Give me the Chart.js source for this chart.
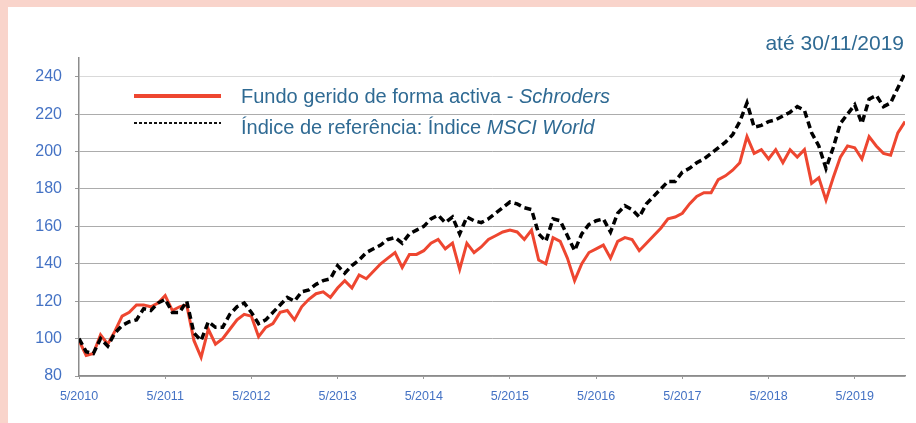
<!DOCTYPE html>
<html lang="pt">
<head>
<meta charset="utf-8">
<script src="https://cdn.jsdelivr.net/npm/chart.js@4.4.1/dist/chart.umd.min.js"></script>
<style>
  html, body { margin: 0; padding: 0; }
  body {
    width: 916px; height: 423px; overflow: hidden; position: relative;
    background: #f9d4cb; font-family: "Liberation Sans", Arial, sans-serif;
  }
  #painel { position: absolute; left: 8px; top: 7px; right: 0; bottom: 0; background: #fff; }
  #grafico { position: absolute; left: 8px; top: 7px; }
  .legenda { position: absolute; left: 241px; font-size: 20px; line-height: 24px; color: #2f6a93; white-space: nowrap; }
  .amostra { position: absolute; left: 134px; width: 87px; }
  #amostraFundo { top: 94px; height: 4px; background: #ee4630; }
  #amostraIndice { top: 122px; height: 2px; background: repeating-linear-gradient(90deg, #111 0 3px, transparent 3px 5px); }
  #data { position: absolute; right: 12px; top: 31px; font-size: 21px; line-height: 24px; color: #2f6a93; white-space: nowrap; }
</style>
</head>
<body>
<div id="painel"></div>
<canvas id="grafico" width="908" height="416"></canvas>
<div id="data">até 30/11/2019</div>
<div class="amostra" id="amostraFundo"></div>
<div class="legenda" style="top:84px">Fundo gerido de forma activa - <i>Schroders</i></div>
<div class="amostra" id="amostraIndice"></div>
<div class="legenda" style="top:115px">Índice de referência: Índice <i>MSCI World</i></div>
<script>
// valores mensais, de 5/2010 até ao fim de 11/2019
const anosEixo = ["5/2010", "5/2011", "5/2012", "5/2013", "5/2014", "5/2015", "5/2016", "5/2017", "5/2018", "5/2019"];

const fundo = [
  99, 91, 92, 102, 97, 104, 112, 114, 118, 118,
  117, 119, 123, 115, 117, 118, 99, 90, 105, 97,
  100, 105, 110, 113, 112, 101, 106, 108, 114, 115,
  110, 117, 121, 124, 125, 122, 127, 131, 127, 134,
  132, 136, 140, 143, 146, 138, 145, 145, 147, 151,
  153, 148, 151, 137, 151, 146, 149, 153, 155, 157,
  158, 157, 153, 158, 142, 140, 154, 152, 143, 131,
  140, 146, 148, 150, 143, 152, 154, 153, 147, 151,
  155, 159, 164, 165, 167, 172, 176, 178, 178, 185,
  187, 190, 194, 208, 199, 201, 196, 201, 194, 201,
  197, 201, 183, 186, 174, 186, 197, 203, 202, 196,
  208, 203, 199, 198, 210, 216
];

const indice = [
  100, 93, 92, 100, 96, 103, 107, 109, 110, 116,
  115, 119, 121, 114, 114, 120, 103, 99, 109, 106,
  106, 113, 117, 119, 114, 108, 110, 114, 118, 122,
  120, 125, 126, 129, 131, 132, 139, 135, 139, 142,
  146, 148, 150, 153, 154, 151, 156, 158, 160, 164,
  166, 162, 165, 156, 165, 163, 162, 164, 167, 170,
  173, 172, 170, 169, 156, 152, 164, 163, 155, 147,
  156, 161, 163, 164, 157, 167, 171, 169, 165, 172,
  176, 180, 184, 184, 189, 191, 194, 196, 199, 202,
  205, 209, 216, 226, 213, 214, 216, 217, 219, 221,
  224, 222, 210, 203, 191, 202, 215, 220, 225, 215,
  228, 230, 224, 226, 234, 242
];

const pontos = serie => serie.map((v, i) => ({ x: i, y: v }));

new Chart(document.getElementById("grafico"), {
  type: "line",
  data: {
    datasets: [
      {
        label: "Índice de referência: Índice MSCI World",
        data: pontos(indice),
        borderColor: "#000",
        borderWidth: 3.5,
        borderDash: [7, 4],
        pointRadius: 0,
        tension: 0,
        order: 0
      },
      {
        label: "Fundo gerido de forma activa - Schroders",
        data: pontos(fundo),
        borderColor: "#ee4630",
        borderWidth: 3,
        pointRadius: 0,
        tension: 0,
        order: 1
      }
    ]
  },
  options: {
    responsive: false,
    animation: false,
    layout: { padding: { top: 51, right: 11, left: 0, bottom: 0 } },
    plugins: { legend: { display: false }, tooltip: { enabled: false } },
    scales: {
      x: {
        type: "linear",
        min: 0,
        max: 115,
        afterFit: s => { s.height = 47; },
        afterBuildTicks: s => { s.ticks = s.ticks.filter(t => t.value % 12 === 0); },
        border: { color: "#8c8c8c", width: 1.5 },
        grid: { drawOnChartArea: false, tickLength: 3, tickColor: "#9a9a9a" },
        ticks: {
          stepSize: 12,
          autoSkip: false,
          maxRotation: 0,
          padding: 10,
          color: "#4472c4",
          font: { family: "Liberation Sans", size: 12.5 },
          callback: v => anosEixo[v / 12]
        }
      },
      y: {
        min: 80,
        max: 250,
        afterFit: s => { s.width = 71; },
        afterBuildTicks: s => { s.ticks = s.ticks.filter(t => t.value <= 240); },
        border: { color: "#8c8c8c", width: 1.5 },
        grid: {
          tickLength: 4,
          color: c => (c.tick && c.tick.value === 240 ? "#d9d9d9" : "#acacac"),
          tickColor: "#9a9a9a"
        },
        ticks: {
          stepSize: 20,
          padding: 13,
          color: "#4472c4",
          font: { family: "Liberation Sans", size: 16 }
        }
      }
    }
  }
});
</script>
</body>
</html>
